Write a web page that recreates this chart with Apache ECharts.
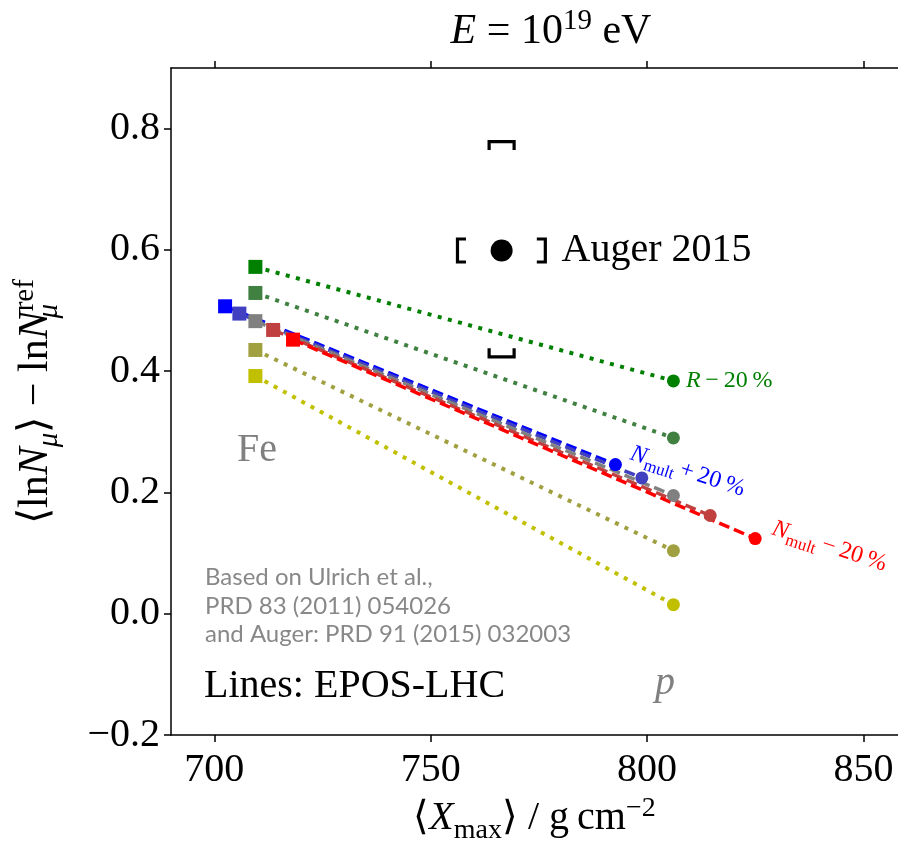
<!DOCTYPE html>
<html><head><meta charset="utf-8">
<script src="https://cdn.jsdelivr.net/npm/echarts@6/dist/echarts.min.js"></script>
<style>html,body{margin:0;padding:0;background:#fff}#c{width:898px;height:841px}</style>
</head><body><div id="c"></div>
<script>
// ---- data ----
// N_mult variations (dashed): +20%, +10%, ref, -10%, -20%
const multNames  = ['Nmult+20%', 'Nmult+10%', 'reference', 'Nmult-10%', 'Nmult-20%'];
const multFeX    = [702.5, 705.8, 709.5, 713.6, 718.2];
const multFeY    = [0.507, 0.495, 0.4825, 0.468, 0.452];
const multPX     = [792.7, 798.8, 806.1, 814.6, 825.0];
const multPY     = [0.246, 0.224, 0.195, 0.162, 0.124];
// R variations (dotted): -20%, -10%, +10%, +20%
const rNames     = ['R-20%', 'R-10%', 'R+10%', 'R+20%'];
const rFeX       = [709.5, 709.5, 709.5, 709.5];
const rFeY       = [0.572, 0.529, 0.435, 0.392];
const rPX        = [806.1, 806.1, 806.1, 806.1];
const rPY        = [0.384, 0.290, 0.104, 0.015];
// Auger 2015 measurement with systematic brackets
const augerX     = [766.4];
const augerY     = [0.599];
const augerSysX  = [756.2, 776.5];
const augerSysY  = [0.4236, 0.7786];
// ticks
const xTickValues = [700, 750, 800, 850];
const xTickLabels = ['700', '750', '800', '850'];
const yTickValues = [-0.2, 0.0, 0.2, 0.4, 0.6, 0.8];
const yTickLabels = ['\u22120.2', '0.0', '0.2', '0.4', '0.6', '0.8'];

// ---- styles ----
const multColors = ['#0000ff', '#4040c0', '#808080', '#c04040', '#ff0000'];
const rColors    = ['#008000', '#408040', '#a0a040', '#c0c000'];
const SERIF = 'Liberation Serif';

function pts(fx, fy, px, py) {
  return [
    { value: [fx, fy], symbol: 'rect', symbolSize: 14 },
    { value: [px, py], symbol: 'circle', symbolSize: 13 }
  ];
}
function rich(color, size) {
  return {
    i: { fontFamily: SERIF, fontStyle: 'italic', fontSize: size, color: color, fontWeight: 'normal' },
    n: { fontFamily: SERIF, fontSize: size, color: color, fontWeight: 'normal' },
    s: { fontFamily: SERIF, fontSize: Math.round(size * 0.7), color: color, fontWeight: 'normal',
         verticalAlign: 'bottom', padding: [0, 0, -4, 0] }
  };
}

const series = [];
rNames.forEach((nm, k) => {
  const d = pts(rFeX[k], rFeY[k], rPX[k], rPY[k]);
  if (k === 0) {
    d[1].label = { show: true, position: 'right', distance: 6,
      formatter: '{i|R}{n|\u2009\u2212\u200920\u2009%}', rich: rich(rColors[k], 24) };
  }
  series.push({
    name: nm, type: 'line', data: d, z: 2,
    lineStyle: { color: rColors[k], width: 4, type: [4, 6.5] },
    itemStyle: { color: rColors[k], opacity: 1 }, showSymbol: true, animation: false, silent: true
  });
});
multNames.forEach((nm, k) => {
  const d = pts(multFeX[k], multFeY[k], multPX[k], multPY[k]);
  if (k === 0) {
    d[1].label = { show: true, position: [22, -5], rotate: -18, align: 'left', verticalAlign: 'middle',
      formatter: '{i|N}{s|mult}{n|\u2009+\u200920\u2009%}', rich: rich(multColors[k], 24) };
  }
  if (k === 4) {
    d[1].label = { show: true, position: [24, -4], rotate: -18, align: 'left', verticalAlign: 'middle',
      formatter: '{i|N}{s|mult}{n|\u2009\u2212\u200920\u2009%}', rich: rich(multColors[k], 24) };
  }
  series.push({
    name: nm, type: 'line', data: d, z: 3,
    lineStyle: { color: multColors[k], width: 3.5, type: [11, 5] },
    itemStyle: { color: multColors[k], opacity: 1 }, showSymbol: true, animation: false, silent: true
  });
});
// Auger point
series.push({
  name: 'Auger 2015', type: 'scatter', z: 5, symbol: 'circle', symbolSize: 22,
  itemStyle: { color: '#000', opacity: 1 },
  data: augerX.map((x, i) => [x, augerY[i]]),
  label: { show: true, position: 'right', distance: 49, formatter: '{n|Auger 2015}',
    opacity: 1, rich: rich('#000', 40) },
  animation: false, silent: true
});
// systematic brackets
series.push({
  name: 'Auger sys', type: 'custom', z: 5, animation: false, silent: true,
  data: [[augerX[0], augerY[0], augerSysX[0], augerSysX[1], augerSysY[0], augerSysY[1]]],
  encode: { x: 0, y: 1 },
  renderItem: function (params, api) {
    const x = api.value(0), y = api.value(1);
    const L = api.coord([api.value(2), y]);
    const R = api.coord([api.value(3), y]);
    const B = api.coord([x, api.value(4)]);
    const T = api.coord([x, api.value(5)]);
    const h = 11.5, a = 8.5, w = 12.5;
    const st = { stroke: '#000', lineWidth: 3.2, fill: null };
    const mk = p => ({ type: 'polyline', shape: { points: p }, style: st });
    return { type: 'group', children: [
      mk([[L[0] + a, L[1] - h], [L[0], L[1] - h], [L[0], L[1] + h], [L[0] + a, L[1] + h]]),
      mk([[R[0] - a, R[1] - h], [R[0], R[1] - h], [R[0], R[1] + h], [R[0] - a, R[1] + h]]),
      mk([[T[0] - w, T[1] + a], [T[0] - w, T[1]], [T[0] + w, T[1]], [T[0] + w, T[1] + a]]),
      mk([[B[0] - w, B[1] - a], [B[0] - w, B[1]], [B[0] + w, B[1]], [B[0] + w, B[1] - a]])
    ] };
  }
});

function lookup(vals, labs) {
  return function (v) {
    const i = vals.findIndex(t => Math.abs(t - v) < 1e-6);
    return i >= 0 ? labs[i] : '';
  };
}
const axisLineStyle = { color: '#000', width: 1.5 };
const base = { fontFamily: SERIF, color: '#000', fontWeight: 'normal' };
function mathRich(big, small, drop) {
  return {
    n: Object.assign({}, base, { fontSize: big }),
    i: Object.assign({}, base, { fontSize: big, fontStyle: 'italic' }),
    s: Object.assign({}, base, { fontSize: small, verticalAlign: 'bottom', padding: [0, 0, -drop, 0] }),
    si: Object.assign({}, base, { fontSize: small, fontStyle: 'italic', verticalAlign: 'bottom', padding: [0, 0, -drop, 0] }),
    sz: Object.assign({}, base, { fontSize: small, fontStyle: 'italic', verticalAlign: 'bottom', padding: [0, 0, -drop, 0], width: 0 }),
    sup: Object.assign({}, base, { fontSize: small, verticalAlign: 'top', padding: [-4, 0, 0, 0] })
  };
}

const option = {
  backgroundColor: '#fff',
  animation: false,
  title: {
    text: '{i|E}{n|\u2005=\u200510}{sup|19}{n|\u2005eV}',
    left: 546, top: 6, textAlign: 'center',
    textStyle: { fontWeight: 'normal', rich: mathRich(42, 29, 6) }
  },
  grid: { left: 171, right: 0, top: 68, bottom: 106, outerBoundsMode: 'none', containLabel: false },
  xAxis: [{
    type: 'value', min: 690, max: 858, position: 'bottom',
    axisLine: { show: true, onZero: false, lineStyle: axisLineStyle },
    axisTick: { show: true, length: 7, lineStyle: axisLineStyle, customValues: xTickValues },
    axisLabel: { customValues: xTickValues, formatter: lookup(xTickValues, xTickLabels),
      fontFamily: SERIF, fontSize: 40, color: '#000', margin: 15 },
    splitLine: { show: false },
    name: '{n|\u27e8}{i|X}{s|max}{n|\u27e9\u2005/\u2005g\u2009cm}{sup|\u22122}',
    nameLocation: 'middle', nameGap: 58,
    nameTextStyle: { rich: mathRich(40, 28, 6) }
  }, {
    type: 'value', min: 690, max: 858, position: 'top',
    axisLine: { show: true, onZero: false, lineStyle: axisLineStyle },
    axisTick: { show: true, length: 7, lineStyle: axisLineStyle, customValues: xTickValues },
    axisLabel: { show: false },
    splitLine: { show: false }
  }],
  yAxis: {
    type: 'value', min: -0.2, max: 0.9,
    axisLine: { show: true, onZero: false, lineStyle: axisLineStyle },
    axisTick: { show: true, length: 7, lineStyle: axisLineStyle, customValues: yTickValues },
    axisLabel: { customValues: yTickValues, formatter: lookup(yTickValues, yTickLabels),
      fontFamily: SERIF, fontSize: 40, color: '#000', margin: 11 },
    splitLine: { show: false },
    name: '{n|\u27e8ln}{i|N}{si|\u03bc}{n|\u27e9\u2005\u2212\u2005ln}{i|N}{sz|\u03bc}{sup|ref}',
    nameLocation: 'middle', nameRotate: 90, nameGap: 114,
    nameTextStyle: { rich: mathRich(42, 29, 7) }
  },
  graphic: [
    { type: 'text', style: { x: 237, y: 450, text: 'Fe', font: '40px "Liberation Serif"', fill: '#808080', verticalAlign: 'middle' } },
    { type: 'text', style: { x: 655, y: 683, text: 'p', font: 'italic 40px "Liberation Serif"', fill: '#808080', verticalAlign: 'middle' } },
    { type: 'text', style: { x: 204, y: 686, text: 'Lines: EPOS-LHC', font: '40px "Liberation Serif"', fill: '#000', verticalAlign: 'middle' } },
    { type: 'text', style: { x: 205, y: 577, text: 'Based on Ulrich et al.,', font: '24px Lato', fill: '#888', verticalAlign: 'middle' } },
    { type: 'text', style: { x: 205, y: 606, text: 'PRD 83 (2011) 054026', font: '24px Lato', fill: '#888', verticalAlign: 'middle' } },
    { type: 'text', style: { x: 205, y: 634, text: 'and Auger: PRD 91 (2015) 032003', font: '24px Lato', fill: '#888', verticalAlign: 'middle' } }
  ],
  series: series
};
const chart = echarts.init(document.getElementById('c'), null, { renderer: 'canvas' });
chart.setOption(option);
</script>
</body></html>
